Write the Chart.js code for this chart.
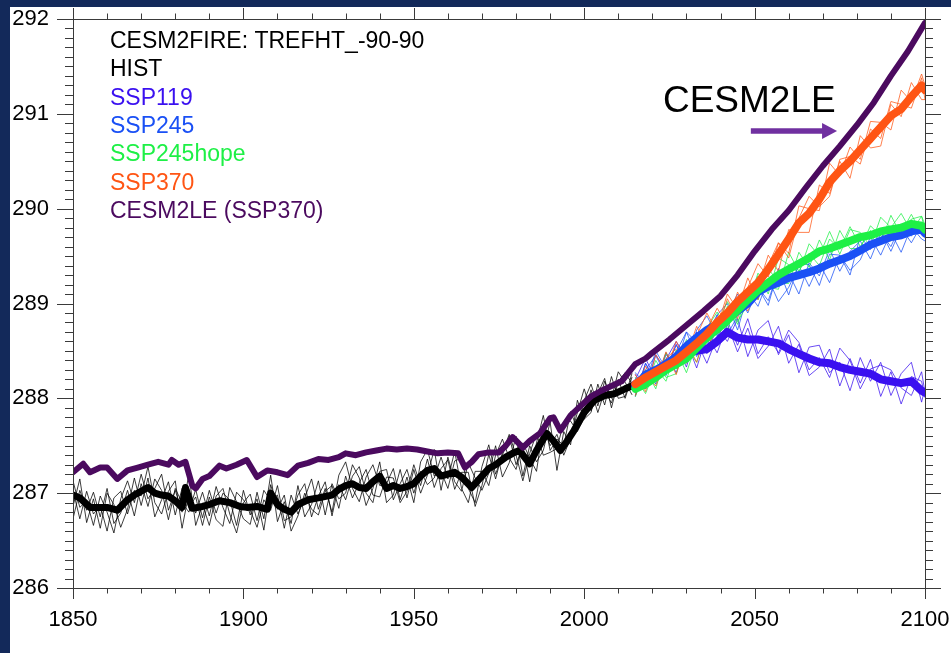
<!DOCTYPE html>
<html>
<head>
<meta charset="utf-8">
<script src="https://cdn.jsdelivr.net/npm/chart.js@4.4.1/dist/chart.umd.min.js"></script>
<style>
  html, body { margin: 0; padding: 0; background: #13295a; overflow: hidden; }
  #wrap { position: absolute; left: 10px; top: 7px; width: 941px; height: 646px; background: #fff; }
</style>
</head>
<body>
<div id="wrap"><canvas id="chart" width="941" height="646"></canvas></div>
<script>
// year axes
function yearsFrom(start, end, step) {
    const out = [];
    for (let y = start; y <= end; y += step) out.push(y);
    return out;
}
const histYears = yearsFrom(1850, 2014, 2);
const scenYears = yearsFrom(2015, 2099, 3).concat([2100]);

// CESM2LE (SSP370), thick purple
const cesm2leYears = [1850, 1853, 1855, 1858, 1860, 1863, 1866, 1869, 1872, 1875, 1878, 1879, 1881, 1883, 1885, 1886, 1888, 1890, 1893, 1895, 1898, 1901, 1904, 1907, 1910, 1913, 1916, 1919, 1922, 1925, 1928, 1930, 1933, 1936, 1939, 1942, 1945, 1948, 1951, 1954, 1957, 1960, 1963, 1965, 1967, 1969, 1972, 1975, 1977, 1979, 1982, 1984, 1987, 1990, 1991, 1993, 1996, 1999, 2002, 2005, 2008, 2011, 2013, 2015, 2018, 2020, 2025, 2030, 2035, 2040, 2045, 2050, 2055, 2060, 2065, 2070, 2075, 2080, 2085, 2090, 2095, 2100];
const cesm2leValues = [287.22, 287.31, 287.22, 287.27, 287.27, 287.15, 287.24, 287.27, 287.30, 287.33, 287.30, 287.35, 287.30, 287.33, 287.08, 287.05, 287.15, 287.18, 287.29, 287.26, 287.30, 287.35, 287.17, 287.24, 287.22, 287.19, 287.29, 287.32, 287.36, 287.35, 287.38, 287.42, 287.40, 287.43, 287.45, 287.47, 287.46, 287.47, 287.46, 287.44, 287.42, 287.43, 287.42, 287.27, 287.33, 287.41, 287.43, 287.43, 287.50, 287.59, 287.48, 287.55, 287.63, 287.79, 287.80, 287.66, 287.82, 287.92, 288.02, 288.08, 288.13, 288.18, 288.27, 288.36, 288.42, 288.48, 288.62, 288.77, 288.92, 289.08, 289.30, 289.55, 289.78, 289.98, 290.22, 290.45, 290.66, 290.88, 291.12, 291.40, 291.66, 291.96];

// HIST ensemble mean, thick black
const histMeanYears = [1850, 1852, 1855, 1858, 1860, 1863, 1866, 1868, 1870, 1872, 1874, 1876, 1878, 1880, 1882, 1883, 1885, 1888, 1890, 1893, 1896, 1899, 1901, 1904, 1907, 1908, 1910, 1912, 1914, 1916, 1919, 1922, 1926, 1928, 1930, 1932, 1934, 1936, 1938, 1940, 1942, 1944, 1946, 1948, 1950, 1952, 1954, 1956, 1958, 1960, 1962, 1964, 1967, 1970, 1972, 1974, 1977, 1979, 1981, 1984, 1986, 1989, 1991, 1993, 1995, 1997, 2000, 2003, 2006, 2009, 2012, 2014];
const histMeanValues = [286.98, 286.95, 286.85, 286.85, 286.85, 286.82, 286.93, 286.98, 287.02, 287.06, 287.00, 286.98, 286.97, 286.92, 286.85, 287.06, 286.84, 286.86, 286.88, 286.92, 286.90, 286.86, 286.85, 286.86, 286.83, 287.00, 286.88, 286.83, 286.80, 286.88, 286.93, 286.95, 286.98, 287.04, 287.08, 287.10, 287.06, 287.05, 287.12, 287.18, 287.05, 287.08, 287.05, 287.07, 287.10, 287.18, 287.24, 287.26, 287.18, 287.20, 287.22, 287.17, 287.06, 287.18, 287.26, 287.30, 287.38, 287.42, 287.45, 287.31, 287.45, 287.63, 287.55, 287.45, 287.55, 287.66, 287.85, 287.98, 288.03, 288.05, 288.10, 288.13];

// HIST members, thin black (every 2 years)
const histMemberA = [287.13, 286.85, 286.92, 286.66, 286.97, 286.80, 286.58, 286.94, 287.13, 286.90, 287.20, 286.94, 287.05, 287.20, 286.82, 287.03, 286.80, 287.20, 286.66, 286.88, 286.66, 286.97, 287.05, 286.78, 286.58, 286.90, 286.99, 286.71, 287.03, 286.92, 286.98, 286.63, 286.98, 286.78, 286.95, 287.15, 286.83, 287.05, 286.80, 287.19, 287.33, 287.05, 286.91, 287.17, 287.30, 287.08, 287.10, 287.26, 286.93, 287.17, 286.90, 287.33, 287.46, 287.18, 287.23, 287.05, 287.34, 287.37, 287.05, 286.90, 287.28, 287.51, 287.20, 287.40, 287.60, 287.30, 287.50, 287.12, 287.53, 287.82, 287.45, 287.57, 287.50, 287.86, 287.68, 287.98, 288.15, 287.92, 288.18, 288.00, 288.28, 288.17, 288.04];
const histMemberB = [286.86, 287.15, 286.69, 286.94, 286.63, 287.00, 286.88, 286.64, 286.83, 287.16, 286.87, 287.16, 286.75, 286.93, 287.12, 286.77, 287.05, 286.85, 286.96, 286.66, 286.96, 286.72, 286.65, 287.06, 286.91, 286.73, 286.67, 287.01, 286.73, 287.19, 286.70, 286.91, 286.68, 287.08, 286.75, 286.88, 287.13, 286.77, 287.10, 286.94, 287.00, 287.30, 287.16, 286.87, 287.05, 287.33, 286.90, 286.98, 287.25, 286.95, 287.25, 287.00, 287.19, 287.46, 287.03, 287.38, 287.12, 287.02, 287.32, 287.16, 287.03, 287.21, 287.50, 287.17, 287.32, 287.60, 287.18, 287.50, 287.33, 287.45, 287.75, 287.24, 287.65, 287.51, 287.98, 287.78, 287.85, 288.15, 287.93, 288.23, 288.00, 288.02, 288.26];
const histMemberC = [287.03, 286.73, 287.02, 286.78, 286.87, 286.60, 286.95, 287.02, 286.78, 287.03, 286.97, 287.28, 286.90, 286.78, 287.02, 287.13, 286.63, 287.00, 286.79, 287.01, 286.76, 287.07, 286.85, 286.68, 287.01, 286.93, 286.82, 286.64, 286.93, 286.82, 287.08, 286.71, 286.75, 286.98, 287.10, 286.75, 286.97, 287.12, 286.76, 287.09, 286.93, 287.18, 287.28, 287.00, 286.90, 287.23, 287.25, 286.93, 287.10, 287.25, 287.00, 287.23, 287.09, 287.16, 287.38, 287.15, 287.44, 287.05, 286.90, 287.23, 287.23, 287.08, 287.40, 287.57, 287.37, 287.25, 287.53, 287.37, 287.23, 287.72, 287.50, 287.62, 287.40, 287.58, 287.85, 288.10, 287.87, 288.05, 288.21, 287.90, 288.18, 288.27, 288.16];
const histMemberD = [286.73, 287.03, 286.82, 287.01, 286.75, 287.05, 286.68, 286.79, 287.03, 286.76, 287.10, 286.86, 287.15, 287.03, 286.72, 287.05, 286.90, 286.80, 287.04, 286.74, 287.03, 286.79, 287.00, 286.93, 286.66, 287.03, 286.77, 286.94, 286.61, 287.09, 286.83, 286.98, 286.60, 286.76, 287.00, 286.83, 286.77, 287.02, 287.08, 286.84, 287.18, 286.95, 287.11, 287.25, 286.98, 286.96, 287.17, 287.16, 286.90, 287.02, 287.30, 287.08, 287.36, 287.06, 287.26, 287.35, 287.04, 287.22, 287.22, 286.86, 287.08, 287.41, 287.15, 287.43, 287.62, 287.40, 287.13, 287.42, 287.63, 287.40, 287.43, 287.47, 287.75, 287.76, 287.65, 287.80, 288.09, 287.85, 288.08, 287.95, 288.20, 288.00, 288.22];

// scenario ensemble means (every 3 years, then 2100)
const ssp119Mean = [288.15, 288.22, 288.28, 288.36, 288.42, 288.48, 288.50, 288.52, 288.60, 288.70, 288.64, 288.62, 288.62, 288.60, 288.58, 288.52, 288.47, 288.42, 288.38, 288.37, 288.33, 288.30, 288.28, 288.26, 288.20, 288.18, 288.16, 288.18, 288.08, 288.06];
const ssp245Mean = [288.12, 288.25, 288.30, 288.36, 288.44, 288.55, 288.64, 288.72, 288.78, 288.85, 288.92, 289.00, 289.12, 289.18, 289.22, 289.27, 289.30, 289.33, 289.37, 289.42, 289.46, 289.50, 289.56, 289.62, 289.66, 289.70, 289.72, 289.76, 289.78, 289.74];
const hopeMean = [288.10, 288.15, 288.22, 288.30, 288.36, 288.42, 288.53, 288.64, 288.73, 288.82, 288.93, 289.04, 289.14, 289.22, 289.30, 289.36, 289.42, 289.48, 289.55, 289.58, 289.62, 289.66, 289.70, 289.72, 289.76, 289.78, 289.80, 289.84, 289.82, 289.78];
const ssp370Mean = [288.15, 288.22, 288.28, 288.34, 288.40, 288.49, 288.58, 288.68, 288.80, 288.90, 289.02, 289.12, 289.22, 289.36, 289.52, 289.68, 289.85, 289.95, 290.10, 290.28, 290.40, 290.50, 290.62, 290.74, 290.86, 290.98, 291.05, 291.18, 291.30, 291.25];

// scenario members, thin
const ssp119MemberA = [288.25, 288.10, 288.46, 288.28, 288.57, 288.33, 288.70, 288.47, 288.75, 288.60, 288.84, 288.44, 288.72, 288.82, 288.46, 288.67, 288.27, 288.54, 288.56, 288.27, 288.38, 288.08, 288.43, 288.18, 288.38, 288.03, 288.26, 288.38, 287.96, 288.11];
const ssp119MemberB = [288.03, 288.37, 288.18, 288.48, 288.27, 288.60, 288.32, 288.67, 288.48, 288.78, 288.49, 288.74, 288.42, 288.55, 288.76, 288.37, 288.57, 288.24, 288.33, 288.52, 288.13, 288.42, 288.16, 288.41, 288.02, 288.28, 287.94, 288.23, 288.18, 288.01];
const ssp119MemberC = [288.20, 288.42, 288.20, 288.41, 288.60, 288.43, 288.60, 288.37, 288.65, 288.82, 288.56, 288.84, 288.47, 288.65, 288.48, 288.72, 288.59, 288.30, 288.43, 288.22, 288.53, 288.40, 288.10, 288.31, 288.35, 288.30, 288.11, 288.03, 288.28, 288.06];
const ssp245MemberA = [288.27, 288.15, 288.50, 288.31, 288.56, 288.37, 288.72, 288.87, 288.66, 288.90, 289.10, 288.90, 289.17, 289.03, 289.34, 289.32, 289.10, 289.43, 289.29, 289.57, 289.34, 289.55, 289.66, 289.47, 289.74, 289.60, 289.84, 289.71, 289.86, 289.76];
const ssp245MemberB = [288.02, 288.37, 288.15, 288.46, 288.36, 288.70, 288.44, 288.67, 288.88, 288.67, 288.87, 289.12, 288.97, 289.26, 289.02, 289.17, 289.40, 289.18, 289.42, 289.22, 289.51, 289.35, 289.46, 289.70, 289.51, 289.75, 289.54, 289.81, 289.68, 289.66];
const ssp245MemberC = [288.07, 288.30, 288.45, 288.24, 288.49, 288.70, 288.59, 288.54, 288.88, 289.00, 288.72, 289.10, 289.17, 288.98, 289.37, 289.09, 289.42, 289.41, 289.19, 289.52, 289.51, 289.30, 289.71, 289.57, 289.76, 289.55, 289.80, 289.64, 289.83, 289.69];
const hopeMemberA = [288.02, 288.30, 288.10, 288.48, 288.31, 288.54, 288.38, 288.74, 288.91, 288.72, 289.05, 288.96, 289.29, 289.10, 289.48, 289.41, 289.32, 289.63, 289.50, 289.76, 289.52, 289.78, 289.75, 289.60, 289.91, 289.80, 289.95, 289.76, 289.92, 289.83];
const hopeMemberB = [288.22, 288.05, 288.32, 288.18, 288.51, 288.27, 288.58, 288.54, 288.61, 288.97, 288.78, 289.16, 289.04, 289.37, 289.22, 289.21, 289.54, 289.38, 289.67, 289.46, 289.77, 289.58, 289.58, 289.82, 289.71, 289.66, 289.75, 289.94, 289.74, 289.73];
const hopeMemberC = [288.15, 288.10, 288.40, 288.22, 288.26, 288.62, 288.48, 288.49, 288.78, 289.02, 288.81, 288.99, 289.32, 289.17, 289.15, 289.54, 289.34, 289.53, 289.40, 289.68, 289.57, 289.81, 289.60, 289.77, 289.64, 289.93, 289.72, 289.89, 289.92, 289.76];
const ssp370MemberA = [288.25, 288.07, 288.46, 288.29, 288.60, 288.37, 288.66, 288.90, 288.70, 289.05, 288.84, 289.17, 289.42, 289.28, 289.64, 289.53, 290.03, 290.00, 289.98, 290.48, 290.35, 290.65, 290.52, 290.92, 290.91, 290.83, 291.25, 291.13, 291.42, 291.30];
const ssp370MemberB = [288.03, 288.34, 288.18, 288.49, 288.25, 288.59, 288.38, 288.73, 288.95, 288.78, 289.12, 288.92, 289.17, 289.51, 289.34, 289.78, 289.75, 289.75, 290.25, 290.16, 290.50, 290.32, 290.77, 290.64, 290.66, 291.10, 290.97, 291.33, 291.15, 291.15];
const ssp370MemberC = [288.10, 288.27, 288.13, 288.42, 288.52, 288.44, 288.76, 288.53, 288.75, 289.10, 288.94, 289.27, 289.04, 289.41, 289.64, 289.48, 289.90, 290.13, 290.02, 290.13, 290.52, 290.55, 290.47, 290.84, 290.74, 291.13, 291.10, 291.06, 291.38, 291.15];

const legendLines = [
    ['CESM2FIRE: TREFHT_-90-90', '#000000'],
    ['HIST', '#000000'],
    ['SSP119', '#3a10f0'],
    ['SSP245', '#1a50f5'],
    ['SSP245hope', '#1ef046'],
    ['SSP370', '#ff5514'],
    ['CESM2LE (SSP370)', '#4b0a5f']
];

const FONT = '"Liberation Sans", Arial, Helvetica, sans-serif';

function line(xs, ys, color, width) {
    return {
        data: xs.map((x, i) => ({ x: x, y: ys[i] })),
        borderColor: color,
        borderWidth: width,
        borderJoinStyle: 'round',
        borderCapStyle: 'round',
        pointRadius: 0,
        tension: 0,
        fill: false
    };
}

const thin119 = 'rgba(58,16,240,0.75)';
const thin245 = 'rgba(26,80,245,0.75)';
const thinHope = 'rgba(30,240,70,0.75)';
const thin370 = 'rgba(255,85,20,0.75)';

// listed bottom first, reversed below because Chart.js paints index 0 last
const datasets = [
    line(histYears, histMemberA, 'rgba(0,0,0,0.85)', 0.9),
    line(histYears, histMemberB, 'rgba(0,0,0,0.85)', 0.9),
    line(histYears, histMemberC, 'rgba(0,0,0,0.85)', 0.9),
    line(histYears, histMemberD, 'rgba(0,0,0,0.85)', 0.9),
    line(histMeanYears, histMeanValues, '#000000', 7),
    line(scenYears, ssp119MemberA, thin119, 1),
    line(scenYears, ssp119MemberB, thin119, 1),
    line(scenYears, ssp119MemberC, thin119, 1),
    line(scenYears, ssp245MemberA, thin245, 1),
    line(scenYears, ssp245MemberB, thin245, 1),
    line(scenYears, ssp245MemberC, thin245, 1),
    line(scenYears, hopeMemberA, thinHope, 1),
    line(scenYears, hopeMemberB, thinHope, 1),
    line(scenYears, hopeMemberC, thinHope, 1),
    line(scenYears, ssp370MemberA, thin370, 1),
    line(scenYears, ssp370MemberB, thin370, 1),
    line(scenYears, ssp370MemberC, thin370, 1),
    line(scenYears, ssp119Mean, '#3a10f0', 8),
    line(scenYears, ssp245Mean, '#1a50f5', 8),
    line(scenYears, hopeMean, '#1ef046', 8),
    line(scenYears, ssp370Mean, '#ff5514', 8),
    line(cesm2leYears, cesm2leValues, '#4b0a5f', 6)
].reverse();

const frameAndText = {
    id: 'frameAndText',
    afterDraw(chart) {
        const { ctx, chartArea: a, scales: { x, y } } = chart;
        ctx.save();

        // frame + outward ticks on all four sides
        ctx.strokeStyle = '#3a3a3a';
        ctx.lineWidth = 1;
        ctx.strokeRect(a.left + 0.5, a.top + 0.5, a.right - a.left, a.bottom - a.top);
        ctx.beginPath();
        for (let yr = 1850; yr <= 2100; yr += 10) {
            const px = Math.round(x.getPixelForValue(yr)) + 0.5;
            const len = yr % 50 === 0 ? 11 : 5.5;
            ctx.moveTo(px, a.bottom);
            ctx.lineTo(px, a.bottom + len);
            ctx.moveTo(px, a.top);
            ctx.lineTo(px, a.top - len);
        }
        for (let k = 0; k <= 60; k++) {
            const py = Math.round(y.getPixelForValue(286 + k / 10)) + 0.5;
            const len = k % 10 === 0 ? 16 : 8;
            ctx.moveTo(a.left, py);
            ctx.lineTo(a.left - len, py);
            ctx.moveTo(a.right, py);
            ctx.lineTo(a.right + len, py);
        }
        ctx.stroke();

        // legend text
        ctx.font = '23px ' + FONT;
        ctx.textBaseline = 'alphabetic';
        ctx.textAlign = 'left';
        legendLines.forEach((item, i) => {
            ctx.fillStyle = item[1];
            ctx.fillText(item[0], a.left + 37, a.top + 29 + i * 28.3);
        });

        // CESM2LE label and arrow
        ctx.fillStyle = '#000000';
        ctx.font = '37px ' + FONT;
        ctx.fillText('CESM2LE', x.getPixelForValue(2023.1), y.getPixelForValue(291.02));

        const ay = y.getPixelForValue(290.82);
        const ax0 = x.getPixelForValue(2048.9);
        const ax1 = x.getPixelForValue(2074.2);
        ctx.strokeStyle = '#7030a0';
        ctx.fillStyle = '#7030a0';
        ctx.lineWidth = 5.5;
        ctx.beginPath();
        ctx.moveTo(ax0, ay);
        ctx.lineTo(ax1 - 13, ay);
        ctx.stroke();
        ctx.beginPath();
        ctx.moveTo(ax1, ay);
        ctx.lineTo(ax1 - 15, ay - 8);
        ctx.lineTo(ax1 - 15, ay + 8);
        ctx.closePath();
        ctx.fill();

        ctx.restore();
    }
};

// fixed axis sizes, and no extra label overhang padding
function fixBox(size, key) {
    return (scale) => {
        scale[key] = size;
        scale.paddingTop = 0;
        scale.paddingBottom = 0;
        scale.paddingLeft = 0;
        scale.paddingRight = 0;
    };
}

const chart = new Chart('chart', {
    type: 'line',
    data: { datasets: datasets },
    options: {
        responsive: false,
        animation: false,
        layout: { autoPadding: false, padding: { left: 0, top: 12, right: 26, bottom: 0 } },
        plugins: { legend: { display: false }, tooltip: { enabled: false } },
        scales: {
            x: {
                type: 'linear',
                min: 1850,
                max: 2100,
                afterFit: fixBox(65, 'height'),
                grid: { display: false, drawTicks: false },
                border: { display: false },
                ticks: {
                    stepSize: 50,
                    padding: 19,
                    color: '#000',
                    font: { family: FONT, size: 22 },
                    maxRotation: 0,
                    callback: (v) => String(v)
                }
            },
            y: {
                min: 286,
                max: 292,
                afterFit: fixBox(63, 'width'),
                grid: { display: false, drawTicks: false },
                border: { display: false },
                ticks: {
                    stepSize: 1,
                    padding: 24,
                    color: '#000',
                    font: { family: FONT, size: 22 },
                    callback: (v) => String(v)
                }
            }
        }
    },
    plugins: [frameAndText]
});
</script>
</body>
</html>
